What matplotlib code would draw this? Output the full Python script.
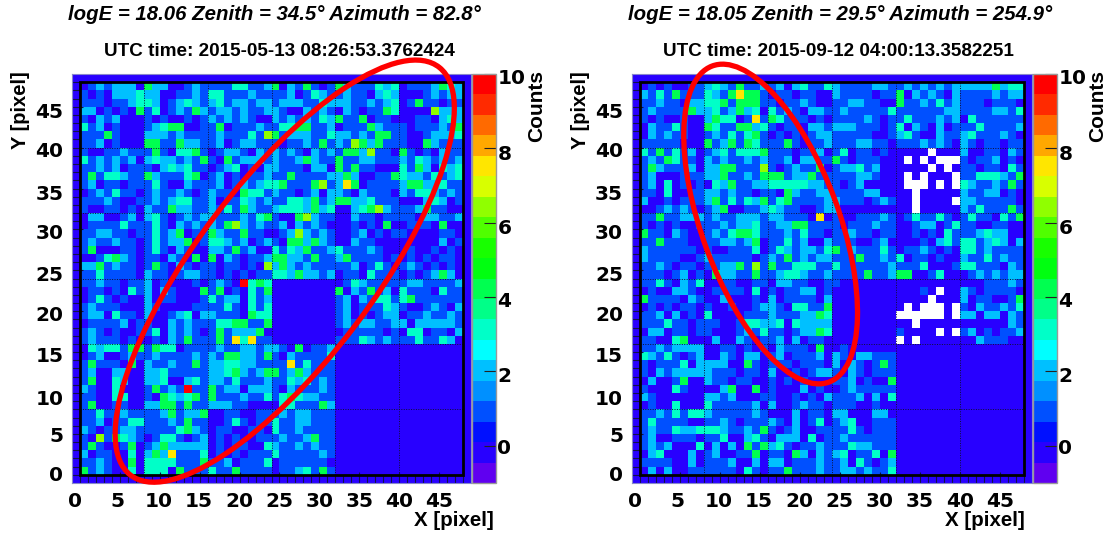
import numpy as np
import matplotlib
matplotlib.use("Agg")
import matplotlib.pyplot as plt
from matplotlib.colors import ListedColormap, BoundaryNorm
from matplotlib.patches import Ellipse, Rectangle
from matplotlib.transforms import ScaledTranslation

# counts, top row (y=47) first, x=0 on the left
# y/l/r = yellow, lime and red cells that sit between integers, x = white (no data)
left_rows = [
    "01212220 42200121 11133112 40214101 42111323 01112432",
    "10102223 22001121 33111211 11201321 12110232 00012122",
    "11101123 32012321 23122122 12221132 22112123 01411011",
    "22010104 13012142 12212112 21002121 02101143 0000l222",
    "10212000 10100101 21212100 21212132 41140110 00110232",
    "31201000 12344001 14011121 13344112 01114211 10111214",
    "11141000 22212111 1211131l 41222113 22121441 10012223",
    "11201000 44114221 12012211 10112141 21l42411 10042111",
    "10011211 14103341 01221021 21210212 1442l110 41010211",
    "31212120 23221214 10412221 21124211 41122111 21321212",
    "11212011 10232311 01230102 21110220 41411000 31420323",
    "14133211 42111340 12010112 11411112 24200114 32213123",
    "12011011 13100211 12012123 341114l1 2y401111 24422311",
    "01213110 12112101 21104331 21101202 21021110 21332121",
    "11121001 12123311 20113212 11332412 44223111 00023201",
    "10011010 21142211 21314211 23332423 00234l21 11241100",
    "02200120 23101212 21112134 1004l211 00211011 11022112",
    "01111311 13102121 214l2121 12021210 00101040 01110400",
    "11221101 13124011 42114110 012l2121 00120101 10000110",
    "12112110 13122401 33212012 10442421 00211000 00000201",
    "14000110 13102100 22141200 31324112 31112100 01001010",
    "00134210 11021040 40210112 44221411 24111101 01010110",
    "22412110 14102101 1011010l 24212111 11201310 12101010",
    "11311110 21101221 10101011 33242212 01103111 01012420",
    "11211011 20100010 1210r343 00000000 01321111 12211112",
    "01101031 20210004 14010314 00000000 40214120 31110311",
    "01310100 20110001 31220312 00000000 12021331 34111111",
    "12111000 21000011 11310313 00000000 12011132 10012102",
    "12203110 20012302 21110433 00000000 12010122 01121121",
    "01111201 10021211 13344114 00000000 12122112 20222221",
    "12101001 13021210 14122240 00000000 01111101 03301102",
    "12111010 01021411 141y3y11 00000000 11132121 11311320",
    "03233144 14330111 12112212 21040112 00000000 00000000",
    "01200121 12111121 21442214 10211113 00000000 00000000",
    "14111040 21121141 22332211 11y13111 00000000 00000000",
    "12002200 22311111 22342124 41242111 00000000 00000000",
    "14003200 22300231 22131112 11323121 00000000 00000000",
    "21003000 14121r11 41220222 10211121 00000000 00000000",
    "11003300 10432341 41112113 13432211 00000000 00000000",
    "14001100 22441411 22211000 03311142 00000000 00000000",
    "11311211 11241224 00110011 12122111 00000000 00000000",
    "11201133 11121411 00131011 31122111 00000000 00000000",
    "21011221 11113421 01100110 31121111 00000000 00000000",
    "10l14321 01331012 01010011 12112411 00000000 00000000",
    "14100140 12422222 01011003 21121211 00000000 00000000",
    "20110030 242y1113 01010111 31111121 00000000 00000000",
    "11210040 33331114 11201113 01111110 00000000 00000000",
    "41210030 33304111 31141111 01123141 00000000 00000000",
]

right_rows = [
    "01010011 23214112 12023113 21111221 12121212 22224233",
    "21314111 3214y441 01101100 21111011 40212102 11112122",
    "11211022 33414441 10112100 11221100 41121312 11101110",
    "12111142 23124230 31210221 12111113 11111122 11112213",
    "10100100 243301y1 43111010 11112101 13111212 03111111",
    "02113100 43114423 10110221 22211101 30210201 11311112",
    "02121100 12131341 01010122 11111001 23100211 23111210",
    "11111000 41241431 11410112 11122110 11121210 21011011",
    "31413120 12313334 11101120 13011010 0000x000 20011021",
    "12143110 21211212 11202211 41011100 0x0x0xxx 10112010",
    "14211120 2244111l 10121140 12231200 0000x0x0 11011031",
    "12000111 22411214 44122411 11122100 0x0x000x 11333214",
    "12030101 03241122 33333221 10120000 0xxx0x0x 32112141",
    "11030011 22121101 10421122 11112200 00x00000 21122010",
    "20010111 24131324 13411112 21110121 00x0000x 22111110",
    "00121210 12400112 32110012 20000000 00x00000 21311141",
    "11411222 12112221 221110y0 10011121 01311310 13110314",
    "10101001 11212231 12244111 10111211 00122013 11001100",
    "41102100 12134431 11213110 11211011 00101031 11232200",
    "11411100 11221240 11312002 11100120 00010231 33123202",
    "21111110 10011130 13212213 41211131 01121010 33121111",
    "21111001 21111101 21412122 11141121 30110100 21131211",
    "11210110 112241l1 41133311 31111112 11130001 33111021",
    "11101201 04221141 12332112 11114112 44001300 01212122",
    "11310213 00110011 02211001 10000000 00000000 00011121",
    "01002210 01111030 10112201 00000000 00010x00 21011110",
    "41111021 00200010 20111102 00000000 0000x000 20110014",
    "01010110 10010012 21033114 00000000 0x0xxx0x 10211213",
    "11202010 30000111 21112243 00000000 xxxxxx0x 22022021",
    "11131101 11001332 23032222 00000000 00x00000 00000021",
    "02201101 10001213 11012243 00000000 10000x0x 12010112",
    "11003400 02002101 12020110 00000000 x0x00000 00211100",
    "11212222 00110101 02111040 01000000 00000000 00000000",
    "32131012 00210220 12011120 21022111 00000000 00000000",
    "10111302 22200410 11101110 20210141 00000000 00000000",
    "10212222 21110110 20010122 10210111 00000000 00000000",
    "02001400 21101100 10101000 11201004 00000000 00000000",
    "10003100 00240040 10002010 01211111 00000000 00000000",
    "21000000 22120001 10010102 11120203 00000000 00000000",
    "01003000 31111120 20012110 11100100 00000000 00000000",
    "11213133 21111121 00020110 22000220 00000000 00000000",
    "13111100 11210111 21020130 12300111 00000000 00000000",
    "12113223 33211214 10120011 11310111 00000000 00000000",
    "12001110 11300231 02220301 12111111 00000000 00000000",
    "12120003 02020414 23101121 11322111 00000000 00000000",
    "02300020 12001140 11042021 23011304 00000000 00000000",
    "11110020 11120020 22011121 12031012 00000000 00000000",
    "02020011 11110310 11411121 12212113 00000000 00000000",
]

titles = ["logE = 18.06 Zenith = 34.5° Azimuth = 82.8°",
          "logE = 18.05 Zenith = 29.5° Azimuth = 254.9°"]
times = ["UTC time: 2015-05-13 08:26:53.3762424",
         "UTC time: 2015-09-12 04:00:13.3582251"]
# centre x, centre y, long axis, short axis, angle of the red ellipses
ellipses = [(25.66, 24.9, 63.1, 22.1, 52.1),
            (16.37, 30.66, 41.3, 17.1, 110.8)]
band_colors = ["#6000f0", "#2800ff", "#0010ff", "#0050ff", "#0090ff",
               "#00c0ff", "#00ffff", "#00ffc8", "#00ff88", "#00ff50",
               "#00ff10", "#18ff00", "#50ff00", "#90ff00", "#d8ff00",
               "#ffe600", "#ffa800", "#ff6a00", "#ff2a00", "#ff0000"]
special = {"y": 7.5, "l": 6.4, "r": 9.8, "x": np.nan}

W, H = 1112, 539
SANS = "Liberation Sans"
TICKFONT = "DejaVu Sans"


def parse(rows):
    out = []
    for row in rows:
        row = row.replace(" ", "")
        out.append([special[c] if c in special else int(c) for c in row])
    return np.array(out[::-1], dtype=float)


def pix_axes(x0, y0, x1, y1):
    return fig.add_axes([x0 / W, 1 - y1 / H, (x1 - x0) / W, (y1 - y0) / H])


def shift(label, dx, dy):
    label.set_transform(label.get_transform() + ScaledTranslation(dx / 100, -dy / 100, fig.dpi_scale_trans))


def panel(rows, ell, box, cbox, counts_x, xlabel_right, ylabel_x):
    ax = pix_axes(*box)
    ax.set_facecolor(band_colors[1])
    z = parse(rows)
    edges = np.arange(0, 49)
    ax.pcolormesh(edges, edges, np.ma.masked_invalid(z), cmap=cmap, norm=norm, zorder=1)
    # white cells have no data, they should not show the background
    white = np.where(np.isnan(z), 1.0, np.nan)
    ax.pcolormesh(edges, edges, white, cmap=ListedColormap(["white"]), zorder=1)
    ax.set_xlim(-1, 49)
    ax.set_ylim(-1, 49)
    for v in range(8, 48, 8):
        ax.plot([v, v], [0, 48], color="#101030", lw=0.7, ls=(0, (1, 1.5)), zorder=2)
        ax.plot([0, 48], [v, v], color="#101030", lw=0.7, ls=(0, (1, 1.5)), zorder=2)
    ax.add_patch(Rectangle((0, 0), 48, 48, fill=False, ec="black", lw=2.0, zorder=3))
    cx, cy, long_ax, short_ax, ang = ell
    ax.add_patch(Ellipse((cx, cy), long_ax, short_ax, angle=ang, fill=False,
                         ec="#ff0000", lw=3.8, clip_on=False, zorder=5))

    for side in ["top", "right", "left", "bottom"]:
        ax.spines[side].set_linewidth(0.8)
        ax.spines[side].set_color("#8888cc")
    ticks = list(range(0, 50, 5))
    ax.set_xticks(ticks)
    ax.set_yticks(ticks)
    ax.set_xticks(range(0, 49), minor=True)
    ax.set_yticks(range(0, 49), minor=True)
    ax.tick_params(which="minor", direction="in", length=5.8, width=0.8, color="#10104a")
    ax.tick_params(which="major", direction="in", length=8, width=0.8, color="#10104a",
                   labelsize=14.5, pad=4)
    for lab in ax.get_xticklabels() + ax.get_yticklabels():
        lab.set_family(TICKFONT)
        lab.set_fontweight("bold")
    for lab, dx in zip(ax.get_xticklabels(), [-5, -2, -1, -1, 0, 0, 0, 0, 0, 0]):
        shift(lab, dx, 3)
    for lab, dy in zip(ax.get_yticklabels(), [-1, 1, 4, 2, 2, 3, 2, 4, 2, 4]):
        shift(lab, -3, dy)

    cax = pix_axes(*cbox)
    sm = plt.cm.ScalarMappable(norm=norm, cmap=cmap)
    cb = fig.colorbar(sm, cax=cax, ticks=[0, 2, 4, 6, 8, 10], spacing="proportional", drawedges=False)
    cb.outline.set_edgecolor("#999999")
    cb.outline.set_linewidth(1.0)
    cax.tick_params(which="both", direction="in", length=9, width=0.8, color="#222222",
                    labelsize=14.5, pad=1, right=True)
    cax.minorticks_off()
    for lab, dy in zip(cax.get_yticklabels(), [1, 3, 2, 4, 4, 3]):
        lab.set_family(TICKFONT)
        lab.set_fontweight("bold")
        shift(lab, 0, dy)

    fig.text(counts_x / W, 1 - 70 / H, "Counts", rotation=90, ha="center", va="top",
             family=SANS, fontweight="bold", fontsize=15)
    fig.text(xlabel_right / W, 1 - 520 / H, "X [pixel]", ha="right", va="center",
             family=SANS, fontweight="bold", fontsize=14.8)
    fig.text(ylabel_x / W, 1 - 71 / H, "Y [pixel]", rotation=90, ha="center", va="top",
             family=SANS, fontweight="bold", fontsize=14.5)


cmap = ListedColormap(band_colors)
norm = BoundaryNorm(np.linspace(-1, 10, 21), cmap.N)

fig = plt.figure(figsize=(W / 100, H / 100), dpi=100)

panel(left_rows, ellipses[0], (72, 74, 471, 483), (472, 74, 496, 483), 537, 494, 21)
panel(right_rows, ellipses[1], (631.5, 74, 1032, 483), (1033, 74, 1057, 483), 1098, 1025, 581)

for i, cx in enumerate([274, 840]):
    fig.text(cx / W, 1 - 14 / H, titles[i], ha="center", va="center", family=SANS,
             fontweight="bold", style="italic", fontsize=14.7)
for i, cx in enumerate([279, 838]):
    fig.text(cx / W, 1 - 52 / H, times[i], ha="center", va="center", family=SANS,
             fontweight="bold", fontsize=13.6)

fig.savefig("out.png", dpi=100)
